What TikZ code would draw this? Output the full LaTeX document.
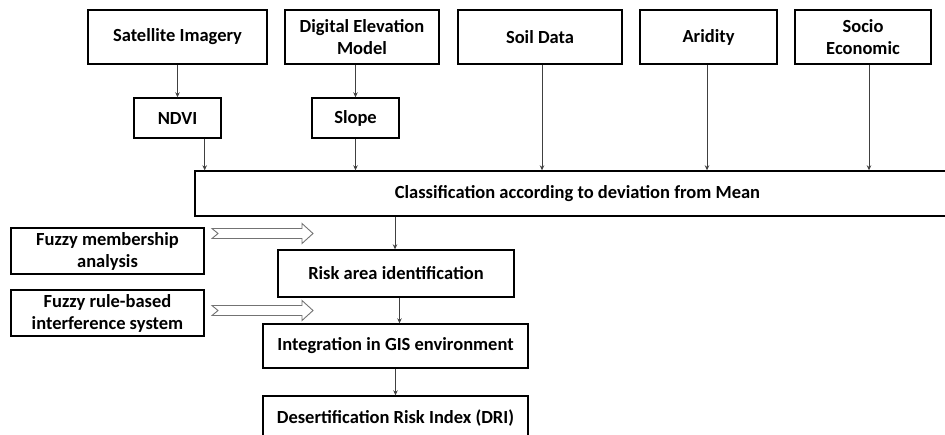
\documentclass[tikz,border=0pt]{standalone}
\usepackage{fontspec}
\setmainfont{Carlito}
\usetikzlibrary{arrows.meta,calc}
\begin{document}
\begin{tikzpicture}[x=1pt,y=-1pt,
  box/.style={draw=black,line width=1.4pt,fill=white,align=center,inner sep=0pt,
    font=\bfseries\fontsize{18.5}{22}\selectfont,text=black},
  arr/.style={draw=black!75,line width=0.8pt,-{Stealth[length=5pt,width=4.5pt]}},
  dbl/.style={draw=black!55,line width=0.9pt,fill=white,line join=miter}]
\useasboundingbox (0,0) rectangle (945,434);
\fill[white] (0,0) rectangle (945,434);
\clip (0,0) rectangle (945,434);
% top row
\node[box,minimum width=179pt,minimum height=54pt] (sat) at (177.5,37) {Satellite Imagery};
\node[box,minimum width=154pt,minimum height=54pt] (dem) at (362,37) {Digital Elevation\\Model};
\node[box,minimum width=164pt,minimum height=54pt] (soil) at (540,37) {Soil Data};
\node[box,minimum width=137pt,minimum height=54pt] (arid) at (708.5,37) {Aridity};
\node[box,minimum width=136pt,minimum height=54pt] (socio) at (863,37) {Socio\\Economic};
% second row
\node[box,minimum width=87pt,minimum height=40pt] (ndvi) at (177.5,118) {NDVI};
\node[box,minimum width=87pt,minimum height=40pt] (slope) at (355.5,118) {Slope};
% classification (runs past the right edge)
\node[box,minimum width=765pt,minimum height=45pt] (class) at (577.5,193.5)
  {Classification according to deviation from Mean};
% left fuzzy boxes
\node[box,minimum width=193pt,minimum height=46pt] (fm) at (107.5,251) {Fuzzy membership\\analysis};
\node[box,minimum width=193pt,minimum height=46pt] (fr) at (107.5,313) {Fuzzy rule-based\\interference system};
% chain
\node[box,minimum width=236pt,minimum height=47pt] (risk) at (396,273.5) {Risk area identification};
\node[box,minimum width=265pt,minimum height=44pt] (integ) at (395.5,346) {Integration in GIS environment};
\node[box,minimum width=265pt,minimum height=44pt] (dri) at (395.5,418) {Desertification Risk Index (DRI)};
% arrows
\draw[arr] (sat.south) -- (ndvi.north);
\draw[arr] (slope.north |- dem.south) -- (slope.north);
\draw[arr] ([xshift=-17pt]ndvi.south east) -- ([xshift=-17pt]ndvi.south east |- class.north);
\draw[arr] (slope.south) -- (slope.south |- class.north);
\draw[arr] ([xshift=2pt]soil.south) -- ([xshift=2pt]soil.south |- class.north);
\draw[arr] ([xshift=-1.5pt]arid.south) -- ([xshift=-1.5pt]arid.south |- class.north);
\draw[arr] ([xshift=6pt]socio.south) -- ([xshift=6pt]socio.south |- class.north);
\draw[arr] ([xshift=-1pt]risk.north |- class.south) -- ([xshift=-1pt]risk.north);
\draw[arr] ([xshift=3.5pt]risk.south) -- ([xshift=3.5pt]risk.south |- integ.north);
\draw[arr] (integ.south) -- (dri.north);
% double (hollow, notched) arrows
\coordinate (d1) at (212,233.5);
\coordinate (d2) at (212,310.5);
\foreach \c in {d1,d2}{
  \draw[dbl] (\c) ++(0,-5) -- ++(90,0) -- ++(0,-5) -- ++(11,10) -- ++(-11,10) -- ++(0,-5)
    -- ++(-90,0) -- ++(6,-5) -- cycle;
}
\end{tikzpicture}
\end{document}
